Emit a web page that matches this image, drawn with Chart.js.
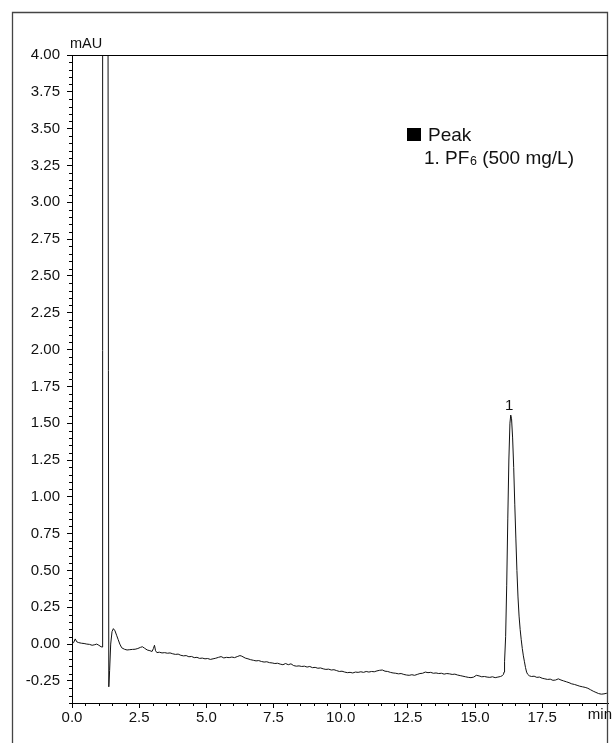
<!DOCTYPE html>
<html>
<head>
<meta charset="utf-8">
<script src="https://cdn.jsdelivr.net/npm/chart.js@4"></script>
<style>
  html, body { margin: 0; padding: 0; background: #fff; }
  #wrap { position: relative; width: 614px; height: 743px; }
</style>
</head>
<body>
<div id="wrap"><canvas id="chart"></canvas></div>
<script>
(() => {
  "use strict";

  // Chromatogram trace (time in min, signal in mAU)
  const times = [
    0.00, 0.06, 0.12, 0.18, 0.25, 0.35, 0.45, 0.55, 0.65, 0.75, 0.85, 0.92, 1.00, 1.08, 1.12,
    1.14, 1.31, 1.37, 1.40, 1.44, 1.49, 1.54, 1.60, 1.66, 1.72, 1.78, 1.85, 1.95,
    2.05, 2.15, 2.25, 2.35, 2.45, 2.55, 2.62, 2.70, 2.80, 2.90, 2.98, 3.03, 3.07, 3.11, 3.16,
    3.25, 3.35, 3.45, 3.55, 3.65, 3.75, 3.85, 3.95, 4.05, 4.15, 4.25, 4.35, 4.45, 4.55, 4.65,
    4.75, 4.85, 4.95, 5.05, 5.15, 5.25, 5.35, 5.45, 5.55, 5.65, 5.75, 5.85, 5.95, 6.05, 6.15,
    6.25, 6.32, 6.45, 6.55, 6.65, 6.75, 6.85, 6.95, 7.05, 7.15, 7.25, 7.35, 7.45, 7.55, 7.65,
    7.75, 7.85, 7.95, 8.05, 8.15, 8.25, 8.35, 8.45, 8.55, 8.65, 8.75, 8.85, 8.95, 9.05, 9.15,
    9.25, 9.35, 9.45, 9.55, 9.65, 9.75, 9.85, 9.95, 10.05, 10.15, 10.25, 10.35, 10.45, 10.55,
    10.65, 10.75, 10.85, 10.95, 11.05, 11.15, 11.25, 11.35, 11.45, 11.55, 11.65, 11.75, 11.85,
    11.95, 12.05, 12.15, 12.25, 12.35, 12.45, 12.55, 12.65, 12.75, 12.85, 12.95, 13.05, 13.15,
    13.25, 13.35, 13.45, 13.55, 13.65, 13.75, 13.85, 13.95, 14.05, 14.15, 14.25, 14.35, 14.45,
    14.55, 14.65, 14.75, 14.85, 14.95, 15.05, 15.15, 15.25, 15.35, 15.45, 15.55, 15.65, 15.75,
    15.85, 15.95, 16.02, 16.06, 16.08, 16.10, 16.14, 16.18, 16.22, 16.26, 16.30, 16.33, 16.36,
    16.40, 16.44, 16.48, 16.52, 16.56, 16.60, 16.64, 16.68, 16.72, 16.76, 16.80, 16.84, 16.88,
    16.92, 16.96, 17.02, 17.10, 17.20, 17.30, 17.40, 17.50, 17.60, 17.70, 17.80, 17.90, 18.00,
    18.10, 18.20, 18.30, 18.40, 18.50, 18.60, 18.70, 18.80, 18.90, 19.00, 19.10, 19.20, 19.30,
    19.40, 19.50, 19.60, 19.70, 19.80, 19.90, 19.95
  ];
  const signal = [
    0.005, 0.010, 0.035, 0.015, 0.010, 0.006, 0.004, 0.000, -0.002, -0.008, -0.004, 0.000, -0.008, -0.018, -0.020,
    9.0, 9.0, -0.290, -0.180, 0.000, 0.085, 0.105, 0.090, 0.060, 0.030, 0.000, -0.025, -0.035,
    -0.040, -0.038, -0.036, -0.035, -0.030, -0.022, -0.018, -0.028, -0.040, -0.045, -0.050, -0.030, -0.008, -0.045, -0.058,
    -0.055, -0.060, -0.058, -0.062, -0.060, -0.066, -0.070, -0.068, -0.076, -0.080, -0.078, -0.086, -0.084, -0.092, -0.090,
    -0.097, -0.095, -0.100, -0.098, -0.104, -0.100, -0.096, -0.090, -0.085, -0.094, -0.090, -0.092, -0.088, -0.092, -0.085,
    -0.078, -0.082, -0.095, -0.100, -0.106, -0.110, -0.114, -0.112, -0.118, -0.122, -0.120, -0.126, -0.128, -0.132, -0.130,
    -0.136, -0.140, -0.132, -0.140, -0.134, -0.146, -0.150, -0.148, -0.152, -0.150, -0.156, -0.152, -0.160, -0.158, -0.164,
    -0.162, -0.168, -0.172, -0.170, -0.176, -0.174, -0.180, -0.186, -0.184, -0.190, -0.194, -0.192, -0.196, -0.190,
    -0.192, -0.188, -0.192, -0.186, -0.190, -0.186, -0.188, -0.182, -0.178, -0.176, -0.184, -0.186, -0.192,
    -0.196, -0.198, -0.202, -0.200, -0.206, -0.210, -0.212, -0.208, -0.212, -0.206, -0.200, -0.198, -0.190,
    -0.194, -0.192, -0.198, -0.196, -0.200, -0.198, -0.204, -0.200, -0.202, -0.206, -0.204, -0.210, -0.214,
    -0.218, -0.222, -0.226, -0.228, -0.224, -0.212, -0.216, -0.222, -0.220, -0.224, -0.226, -0.222, -0.228,
    -0.224, -0.220, -0.214, -0.205, -0.190, -0.120, 0.050, 0.400, 0.850, 1.250, 1.500, 1.555, 1.530,
    1.400, 1.200, 0.950, 0.720, 0.500, 0.320, 0.190, 0.100, 0.030, -0.030, -0.080, -0.120, -0.160,
    -0.190, -0.205, -0.215, -0.220, -0.218, -0.226, -0.224, -0.232, -0.236, -0.240, -0.238, -0.246, -0.244,
    -0.236, -0.244, -0.250, -0.256, -0.262, -0.270, -0.274, -0.280, -0.286, -0.290, -0.294, -0.300, -0.310,
    -0.320, -0.328, -0.336, -0.340, -0.338, -0.334, -0.332
  ];

  // Axes
  const xMin = 0, xMax = 19.95, xStep = 2.5, xMinorStep = 0.5;
  const yMin = -0.40, yMax = 4.00, yStep = 0.25, yMinorStep = 0.05;
  const xUnit = "min";
  const yUnit = "mAU";

  // Peak annotation + legend text
  const peakLabels = ["1"];
  const peakTimes = [16.33];
  const peakHeights = [1.555];
  const legendTitle = "Peak";
  const legendLine = ["1. PF", "6", " (500 mg/L)"];

  const FONT = "'Liberation Sans', Arial, Helvetica, sans-serif";
  const INK = "#111";

  const decor = {
    id: "decor",
    beforeDraw(chart) {
      const { ctx, width, height } = chart;
      ctx.save();
      ctx.fillStyle = "#fff";
      ctx.fillRect(0, 0, width, height);
      ctx.restore();
    },
    afterDraw(chart) {
      const { ctx, chartArea: a, scales: { x, y } } = chart;
      ctx.save();

      // outer frame (open at the bottom)
      ctx.strokeStyle = "#444";
      ctx.lineWidth = 1.3;
      ctx.beginPath();
      ctx.moveTo(12.5, 743);
      ctx.lineTo(12.5, 12.5);
      ctx.lineTo(607.5, 12.5);
      ctx.lineTo(607.5, 743);
      ctx.stroke();

      // top of plot box
      ctx.strokeStyle = "#000";
      ctx.lineWidth = 1;
      ctx.beginPath();
      ctx.moveTo(a.left, Math.round(a.top) + 0.5);
      ctx.lineTo(a.right, Math.round(a.top) + 0.5);
      ctx.stroke();

      // minor ticks
      ctx.beginPath();
      const ny = Math.round((yMax - yMin) / yMinorStep);
      for (let i = 0; i <= ny; i++) {
        const v = yMin + i * yMinorStep;
        if (Math.abs(v / yStep - Math.round(v / yStep)) < 1e-6) continue;
        const py = Math.round(y.getPixelForValue(v)) + 0.5;
        ctx.moveTo(a.left - 3, py);
        ctx.lineTo(a.left, py);
      }
      const nx = Math.floor((xMax - xMin) / xMinorStep + 1e-6);
      for (let i = 0; i <= nx; i++) {
        const v = xMin + i * xMinorStep;
        if (Math.abs(v / xStep - Math.round(v / xStep)) < 1e-6) continue;
        const px = Math.round(x.getPixelForValue(v)) + 0.5;
        ctx.moveTo(px, a.bottom);
        ctx.lineTo(px, a.bottom + 3);
      }
      ctx.stroke();

      // unit labels
      ctx.fillStyle = INK;
      ctx.font = `14.5px ${FONT}`;
      ctx.textAlign = "left";
      ctx.textBaseline = "alphabetic";
      ctx.fillText(yUnit, a.left - 2, 48);
      ctx.font = `15px ${FONT}`;
      ctx.textAlign = "right";
      ctx.fillText(xUnit, 612, 719);

      // peak labels
      ctx.textAlign = "center";
      peakLabels.forEach((lab, i) => {
        const px = x.getPixelForValue(peakTimes[i]) - 1.5;
        const py = y.getPixelForValue(peakHeights[i]) - 5;
        ctx.fillText(lab, px, py);
      });

      // legend box
      ctx.fillStyle = "#000";
      ctx.fillRect(407, 128, 14, 13);
      ctx.fillStyle = INK;
      ctx.textAlign = "left";
      ctx.font = `19px ${FONT}`;
      ctx.fillText(legendTitle, 428, 141);
      let lx = 424;
      const ly = 164;
      ctx.fillText(legendLine[0], lx, ly);
      lx += ctx.measureText(legendLine[0]).width;
      ctx.font = `12.5px ${FONT}`;
      ctx.fillText(legendLine[1], lx + 0.5, ly + 1);
      lx += ctx.measureText(legendLine[1]).width + 0.5;
      ctx.font = `19px ${FONT}`;
      ctx.fillText(legendLine[2], lx, ly);

      ctx.restore();
    }
  };

  new Chart(document.getElementById("chart"), {
    type: "line",
    data: {
      datasets: [{
        data: times.map((t, i) => ({ x: t, y: signal[i] })),
        borderColor: "#111",
        borderWidth: 1,
        pointRadius: 0,
        tension: 0,
        fill: false
      }]
    },
    options: {
      responsive: true,
      maintainAspectRatio: false,
      animation: false,
      events: [],
      layout: { padding: { left: 0, top: 55, right: 6, bottom: 0 } },
      plugins: { legend: { display: false }, tooltip: { enabled: false } },
      scales: {
        x: {
          type: "linear",
          min: xMin,
          max: xMax,
          afterFit: (s) => { s.height = 40; },
          border: { color: "#000", width: 1 },
          grid: { drawOnChartArea: false, tickLength: 5, color: "#000" },
          ticks: {
            stepSize: xStep,
            includeBounds: false,
            autoSkip: false,
            maxRotation: 0,
            padding: 1,
            color: INK,
            font: { family: FONT, size: 15 },
            callback: (v) => Number(v).toFixed(1)
          }
        },
        y: {
          min: yMin,
          max: yMax,
          afterFit: (s) => { s.width = 72; },
          border: { color: "#000", width: 1 },
          grid: { drawOnChartArea: false, tickLength: 5, color: "#000" },
          ticks: {
            stepSize: yStep,
            includeBounds: false,
            autoSkip: false,
            padding: 7,
            color: INK,
            font: { family: FONT, size: 15 },
            callback: (v) => Number(v).toFixed(2)
          }
        }
      }
    },
    plugins: [decor]
  });
})();
</script>
</body>
</html>
